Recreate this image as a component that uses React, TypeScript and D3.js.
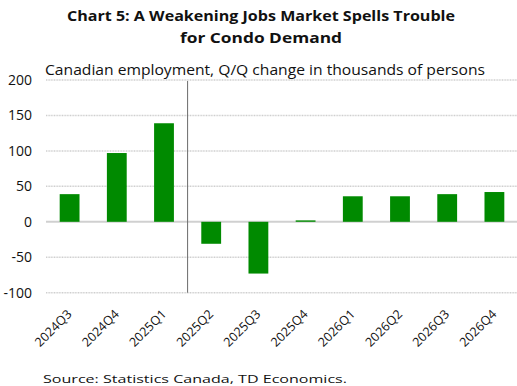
import React from "react";
import * as d3 from "d3";

const categories = ["2024Q3","2024Q4","2025Q1","2025Q2","2025Q3","2025Q4","2026Q1","2026Q2","2026Q3","2026Q4"];
const values = [39, 97, 139, -31, -73, 2, 36, 36, 39, 42];
const yTicks = [200, 150, 100, 50, 0, -50, -100];
const title1 = "Chart 5: A Weakening Jobs Market Spells Trouble";
const title2 = "for Condo Demand";
const subtitle = "Canadian employment, Q/Q change in thousands of persons";
const source = "Source: Statistics Canada, TD Economics.";
const dividerAfter = "2025Q1";

const W = 517, H = 386;
const FONT = "'Open Sans', Lato, sans-serif";

export default function App() {
  const x = d3.scaleBand<string>().domain(categories).range([46, 518]).paddingInner(0.58).paddingOuter(0.29);
  const y = d3.scaleLinear().domain([-100, 200]).range([292.7, 80]);
  const bw = x.bandwidth();
  const step = x.step();
  const divX = (x(dividerAfter) as number) + bw / 2 + step / 2;
  return (
    <svg width={W} height={H} style={{ position: "absolute", left: 0, top: 0 }} fontFamily={FONT}>
      <rect width={W} height={H} fill="#fff" />
      <text x={67} y={20.5} fontSize={15} fontWeight="bold" fill="#111" textLength={388} lengthAdjust="spacingAndGlyphs">{title1}</text>
      <text x={180} y={42.5} fontSize={15} fontWeight="bold" fill="#111" textLength={162} lengthAdjust="spacingAndGlyphs">{title2}</text>
      <text x={45} y={75} fontSize={14} fill="#111" textLength={440} lengthAdjust="spacingAndGlyphs">{subtitle}</text>
      {yTicks.map(t => (
        <g key={t}>
          <line x1={46} x2={517} y1={y(t)} y2={y(t)} stroke={t === 0 ? "#d0d0d0" : "#cfcfcf"} strokeWidth={t === 0 ? 2 : 1.5} strokeDasharray={t === 0 ? undefined : "1 0.6"} />
          <text x={32} y={y(t)} dy="0.35em" textAnchor="end" fontSize={14} fill="#111">{t}</text>
        </g>
      ))}
      <line x1={divX} x2={divX} y1={81} y2={292.7} stroke="#6b6b6b" strokeWidth={1} />
      {categories.map((c, i) => {
        const v = values[i];
        const y0 = y(0), y1 = y(v);
        return (
          <rect key={c} x={x(c)} width={bw} y={Math.min(y0, y1)} height={Math.abs(y1 - y0)} fill="#008a00" />
        );
      })}
      {categories.map(c => {
        const cx = (x(c) as number) + bw / 2 + 3;
        return (
          <text key={c} transform={`translate(${cx},315) rotate(-45)`} textAnchor="end" fontSize={12.5} fill="#111" textLength={46} lengthAdjust="spacingAndGlyphs">{c}</text>
        );
      })}
      <text x={43} y={383} fontSize={11} fill="#111" textLength={304} lengthAdjust="spacingAndGlyphs">{source}</text>
    </svg>
  );
}
